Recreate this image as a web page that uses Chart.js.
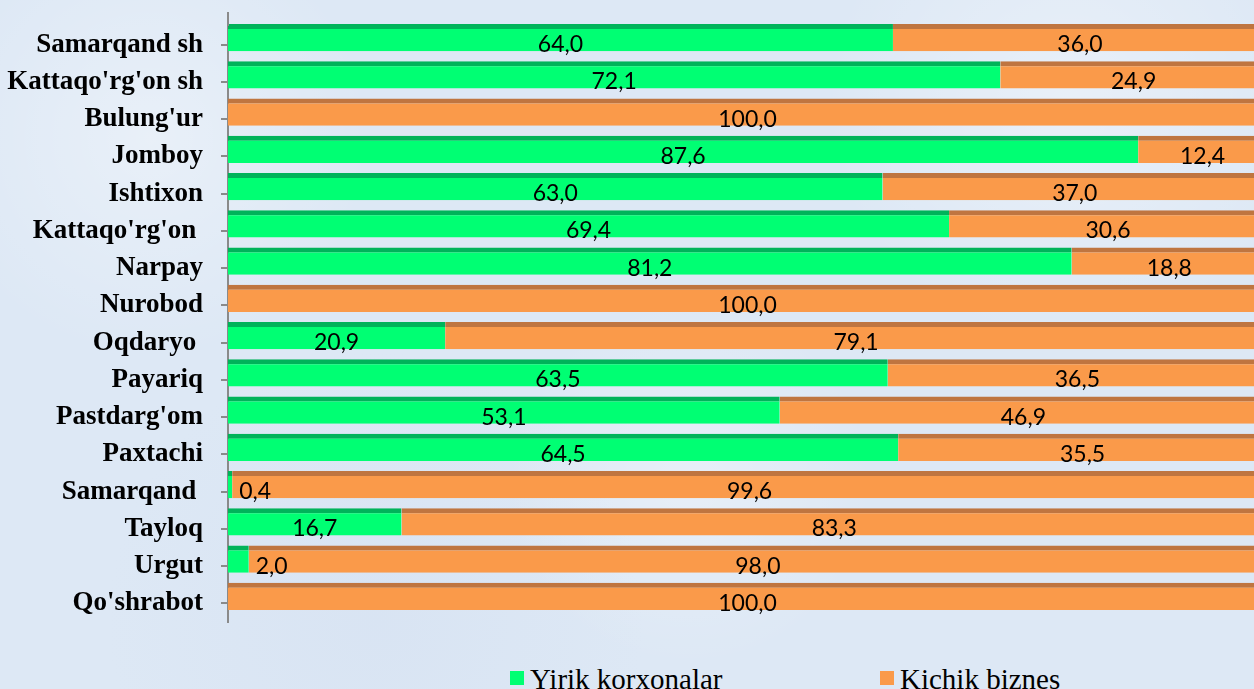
<!DOCTYPE html>
<html>
<head>
<meta charset="utf-8">
<script src="https://cdn.jsdelivr.net/npm/chart.js@4"></script>
<style>
    html, body { margin: 0; padding: 0; }
    body {
        width: 1254px; height: 689px; overflow: hidden; position: relative;
        background-color: #dde8f5;
        background-image:
            radial-gradient(circle at 12% 20%, rgba(255,255,255,0.35) 0, rgba(255,255,255,0) 18%),
            radial-gradient(circle at 55% 70%, rgba(255,255,255,0.3) 0, rgba(255,255,255,0) 22%),
            radial-gradient(circle at 85% 15%, rgba(255,255,255,0.35) 0, rgba(255,255,255,0) 20%),
            radial-gradient(circle at 30% 90%, rgba(210,222,240,0.4) 0, rgba(210,222,240,0) 25%);
    }
    #wrap { position: absolute; left: 0; top: 0; width: 1268px; height: 640px; }
    .leg { position: absolute; top: 665px; font: 29px "Liberation Serif", serif; line-height: 29px; color: #000; white-space: nowrap; }
    .sw { position: absolute; width: 14px; height: 14px; }
</style>
</head>
<body>
<div id="wrap"><canvas id="districtChart"></canvas></div>
<div id="legend"></div>
<script>
    // Tumanlar (categories)
    const districts = [
        'Samarqand sh', "Kattaqo'rg'on sh", "Bulung'ur", 'Jomboy', 'Ishtixon',
        "Kattaqo'rg'on ", 'Narpay', 'Nurobod', 'Oqdaryo ', 'Payariq',
        "Pastdarg'om", 'Paxtachi', 'Samarqand ', 'Tayloq', 'Urgut', "Qo'shrabot"
    ];
    // Yirik korxonalar ulushi, %
    const largeShare = [64.0, 72.1, 0, 87.6, 63.0, 69.4, 81.2, 0, 20.9, 63.5, 53.1, 64.5, 0.4, 16.7, 2.0, 0];
    // Kichik biznes ulushi, %
    const smallShare = [36.0, 24.9, 100.0, 12.4, 37.0, 30.6, 18.8, 100.0, 79.1, 36.5, 46.9, 35.5, 99.6, 83.3, 98.0, 100.0];

    // 100% stacked: normalise each row
    const totals = largeShare.map((v, i) => v + smallShare[i]);
    const largePct = largeShare.map((v, i) => v / totals[i] * 100);
    const smallPct = smallShare.map((v, i) => v / totals[i] * 100);

    const rawValues = [largeShare, smallShare];
    const fmt = v => v.toFixed(1).replace('.', ',');

    // fake 3D: shift bars up, draw value labels on category centre
    const barLabels = {
        id: 'barLabels',
        beforeDatasetsDraw(chart) {
            chart.ctx.save();
            chart.ctx.translate(0, -7);
        },
        afterDatasetsDraw(chart) {
            const ctx = chart.ctx;
            ctx.restore();
            ctx.save();
            ctx.font = '23px Lato, sans-serif';
            ctx.fillStyle = '#000';
            ctx.textBaseline = 'middle';
            chart.data.datasets.forEach((ds, di) => {
                chart.getDatasetMeta(di).data.forEach((bar, i) => {
                    const v = rawValues[di][i];
                    if (!v) return;
                    const left = Math.min(bar.x, bar.base), right = Math.max(bar.x, bar.base);
                    if (right - left < 30) {
                        ctx.textAlign = 'left';
                        ctx.fillText(fmt(v), right + 7, bar.y);
                    } else {
                        ctx.textAlign = 'center';
                        ctx.fillText(fmt(v), (left + right) / 2, bar.y);
                    }
                });
            });
            // axis line continues above plot
            const a = chart.chartArea;
            ctx.strokeStyle = '#8a8a8a';
            ctx.lineWidth = 2;
            ctx.beginPath();
            ctx.moveTo(a.left, 12);
            ctx.lineTo(a.left, a.top);
            ctx.stroke();
            ctx.restore();
        }
    };

    const ctxEl = document.getElementById('districtChart').getContext('2d');
    const chart = new Chart(ctxEl, {
        type: 'bar',
        data: {
            labels: districts,
            datasets: [
                {
                    label: 'Yirik korxonalar',
                    data: largePct,
                    backgroundColor: '#00FF73',
                    borderColor: '#00B35A',
                    borderWidth: { top: 5, right: 0, bottom: 0, left: 0 },
                    borderSkipped: false
                },
                {
                    label: 'Kichik biznes',
                    data: smallPct,
                    backgroundColor: '#FA9A4A',
                    borderColor: '#BF7540',
                    borderWidth: { top: 5, right: 0, bottom: 0, left: 0 },
                    borderSkipped: false
                }
            ]
        },
        options: {
            indexAxis: 'y',
            responsive: true,
            maintainAspectRatio: false,
            animation: false,
            layout: { padding: { left: 0, top: 26, right: 1, bottom: 18 } },
            datasets: { bar: { barPercentage: 0.725, categoryPercentage: 1 } },
            scales: {
                x: { stacked: true, display: false, min: 0, max: 100 },
                y: {
                    stacked: true,
                    afterFit: s => { s.width = 228; s.paddingTop = 0; s.paddingBottom = 0; },
                    border: { display: true, color: '#8a8a8a', width: 2 },
                    grid: { drawOnChartArea: false, offset: false, tickLength: 7, color: '#8a8a8a', lineWidth: 2 },
                    ticks: {
                        padding: 18,
                        color: '#000',
                        font: { family: '"Liberation Serif", serif', size: 27, weight: 'bold' }
                    }
                }
            },
            plugins: {
                legend: { display: false },
                title: { display: false },
                tooltip: { enabled: false }
            }
        },
        plugins: [barLabels]
    });

    // legend below the chart
    const legendPos = [{ sw: 510, tx: 530 }, { sw: 880, tx: 900 }];
    const legendEl = document.getElementById('legend');
    chart.data.datasets.forEach((ds, i) => {
        const sw = document.createElement('div');
        sw.className = 'sw';
        sw.style.left = legendPos[i].sw + 'px';
        sw.style.top = '671px';
        sw.style.background = ds.backgroundColor;
        legendEl.appendChild(sw);
        const tx = document.createElement('div');
        tx.className = 'leg';
        tx.style.left = legendPos[i].tx + 'px';
        tx.textContent = ds.label;
        legendEl.appendChild(tx);
    });
</script>
</body>
</html>
